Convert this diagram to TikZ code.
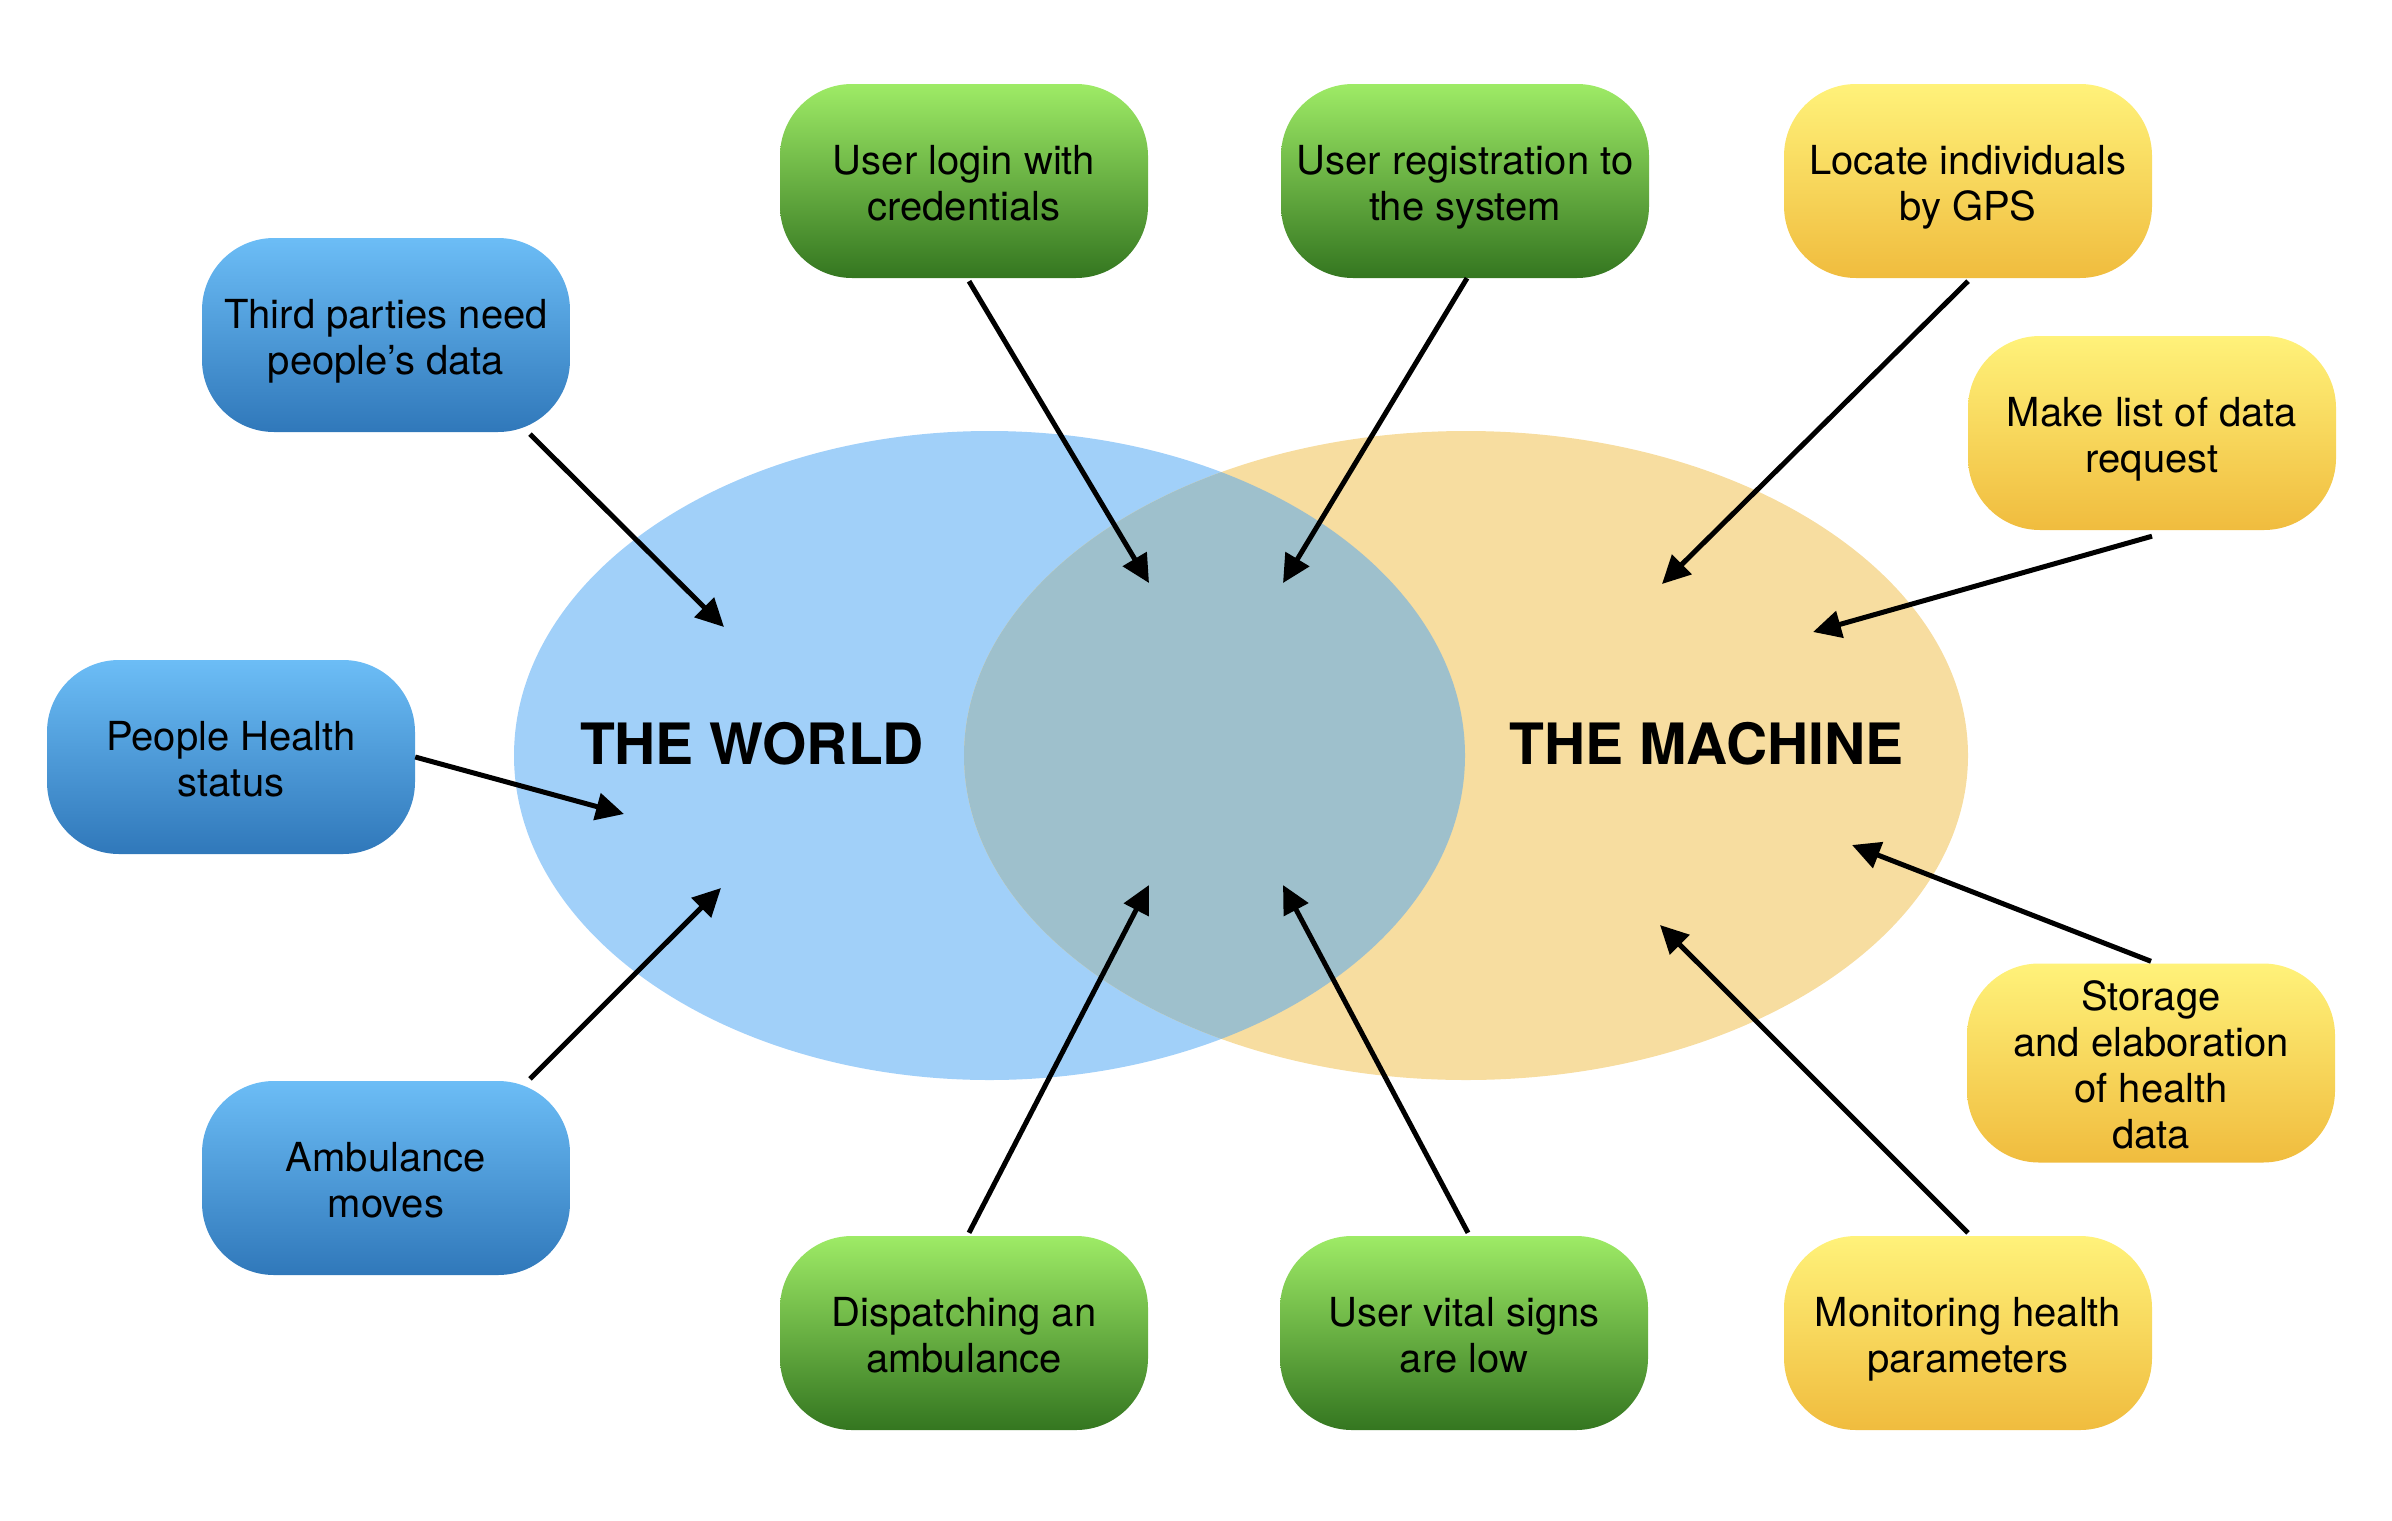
\documentclass[tikz,border=0pt]{standalone}
\usepackage{fontspec}
\setmainfont{TeX Gyre Heros}
\usetikzlibrary{arrows.meta}
\definecolor{worldc}{RGB}{161,208,249}
\definecolor{machc}{RGB}{247,221,160}
\definecolor{lensc}{RGB}{158,192,204}
\definecolor{blueTop}{RGB}{108,189,246}
\definecolor{blueBot}{RGB}{48,120,186}
\definecolor{greenTop}{RGB}{158,235,102}
\definecolor{greenBot}{RGB}{52,118,32}
\definecolor{yelTop}{RGB}{255,242,122}
\definecolor{yelBot}{RGB}{240,188,62}
\newcommand\cardtxt[1]{\raisebox{0pt}[\dimexpr\height+15pt\relax][\depth]{\begin{tabular}{@{}c@{}}#1\end{tabular}}}
\begin{document}
\begin{tikzpicture}[x=1pt,y=-1pt,
  card/.style={rounded corners=72pt, minimum width=368pt, minimum height=194pt,
    inner sep=0pt, text=black,
    font=\fontsize{40pt}{46pt}\selectfont},
  bluecard/.style={card, top color=blueTop, bottom color=blueBot},
  greencard/.style={card, top color=greenTop, bottom color=greenBot},
  yelcard/.style={card, top color=yelTop, bottom color=yelBot},
  link/.style={line width=5pt, draw=black, -{Triangle[length=28pt,width=27pt]}},
  title/.style={inner sep=0pt, text=black, font=\fontsize{57pt}{60pt}\selectfont\bfseries}]
\useasboundingbox (0,0) rectangle (2392,1520);

% Venn ellipses
\fill[worldc] (989.5,755.5) ellipse [x radius=475.5, y radius=324.5];
\fill[machc] (1466,755.5) ellipse [x radius=502, y radius=324.5];
\begin{scope}
  \clip (989.5,755.5) ellipse [x radius=475.5, y radius=324.5];
  \fill[lensc] (1466,755.5) ellipse [x radius=502, y radius=324.5];
\end{scope}

\node[title] (world) at (752,743.5) {THE WORLD};
\node[title] (machine) at (1706.5,743.5) {THE MACHINE};

% boxes
\node[bluecard] (third) at (386,335) {\cardtxt{Third parties need\\people’s data}};
\node[bluecard] (people) at (231,757) {\cardtxt{People Health\\status}};
\node[bluecard] (amb) at (386,1178) {\cardtxt{Ambulance\\moves}};
\node[greencard] (login) at (964,181) {\cardtxt{User login with\\credentials}};
\node[greencard] (reg) at (1465,181) {\cardtxt{User registration to\\the system}};
\node[yelcard] (locate) at (1968,181) {\cardtxt{Locate individuals\\by GPS}};
\node[yelcard] (make) at (2152,433) {\cardtxt{Make list of data\\request}};
\node[yelcard] (store) at (2151,1063) {\cardtxt{Storage\\and elaboration\\of health\\data}};
\node[greencard] (disp) at (964,1333) {\cardtxt{Dispatching an\\ambulance}};
\node[greencard] (vital) at (1464,1333) {\cardtxt{User vital signs\\are low}};
\node[yelcard] (monit) at (1968,1333) {\cardtxt{Monitoring health\\parameters}};

% arrow targets
\coordinate (tThird) at (724,627);
\coordinate (tPeople) at (624,814);
\coordinate (tAmb) at (721,888);
\coordinate (tLogin) at (1149,583);
\coordinate (tReg) at (1283,583);
\coordinate (tLocate) at (1662,584);
\coordinate (tMake) at (1813,632);
\coordinate (tStore) at (1852,845);
\coordinate (tDisp) at (1149,885);
\coordinate (tVital) at (1283,885);
\coordinate (tMonit) at (1660,925);

\draw[link] ([xshift=144pt,yshift=-2pt]third.south) -- (tThird);
\draw[link] (people.east) -- (tPeople);
\draw[link] ([xshift=144pt,yshift=2pt]amb.north) -- (tAmb);
\draw[link] ([xshift=5pt,yshift=-3pt]login.south) -- (tLogin);
\draw[link] ([xshift=2pt]reg.south) -- (tReg);
\draw[link] ([yshift=-3pt]locate.south) -- (tLocate);
\draw[link] ([yshift=-6pt]make.south) -- (tMake);
\draw[link] ([yshift=2pt]store.north) -- (tStore);
\draw[link] ([xshift=5pt,yshift=3pt]disp.north) -- (tDisp);
\draw[link] ([xshift=4pt,yshift=3pt]vital.north) -- (tVital);
\draw[link] ([yshift=3pt]monit.north) -- (tMonit);
\end{tikzpicture}
\end{document}
